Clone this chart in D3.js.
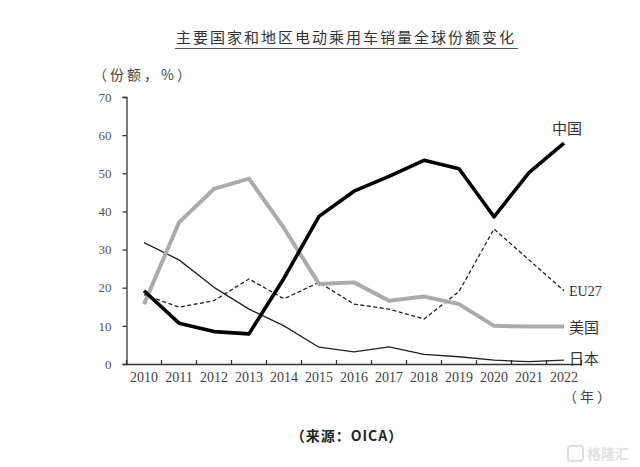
<!DOCTYPE html>
<html>
<head>
<meta charset="utf-8">
<script src="https://cdn.jsdelivr.net/npm/d3@7/dist/d3.min.js"></script>
<style>
  html, body { margin: 0; padding: 0; background: #fff; }
  svg { display: block; }
</style>
</head>
<body>
<svg id="chart" width="640" height="467"></svg>
<script>
const years = ["2010","2011","2012","2013","2014","2015","2016","2017","2018","2019","2020","2021","2022"];
const yTicks = [0, 10, 20, 30, 40, 50, 60, 70];
const china = [19.2, 10.7, 8.5, 7.9, 22.5, 38.7, 45.3, 49.2, 53.4, 51.2, 38.6, 50.2, 57.9];
const usa   = [15.7, 37.1, 45.9, 48.6, 35.6, 21.0, 21.4, 16.6, 17.7, 15.7, 10.0, 9.8, 9.8];
const eu27  = [18.2, 14.9, 16.6, 22.3, 17.1, 21.4, 15.7, 14.4, 11.8, 19.0, 35.4, 27.3, 19.2];
const japan = [31.8, 27.3, 20.1, 14.4, 10.0, 4.4, 3.2, 4.5, 2.5, 1.9, 1.0, 0.6, 1.0];
const seriesNames = ["中国", "美国", "EU27", "日本"];

const serif = "'Liberation Serif','DejaVu Serif',serif";
const cjk = "'Noto Sans CJK SC','Noto Sans CJK JP',sans-serif";

const svg = d3.select("#chart");
const plotLeft = 126.5, plotRight = 581.5, plotTop = 97, plotBottom = 364;

const x = d3.scaleBand().domain(years).range([plotLeft, plotRight]);
const y = d3.scaleLinear().domain([0, 70]).range([plotBottom, plotTop]);

// Title
svg.append("text")
  .attr("x", 346).attr("y", 43)
  .attr("text-anchor", "middle")
  .attr("font-family", cjk)
  .attr("font-size", 15)
  .attr("letter-spacing", 2)
  .attr("fill", "#333")
  .text("主要国家和地区电动乘用车销量全球份额变化");
svg.append("line")
  .attr("x1", 175).attr("x2", 518)
  .attr("y1", 48.5).attr("y2", 48.5)
  .attr("stroke", "#555").attr("stroke-width", 1);

// Y axis label
svg.append("text")
  .attr("x", 93).attr("y", 80)
  .attr("font-family", cjk)
  .attr("font-size", 14)
  .attr("letter-spacing", 3)
  .attr("fill", "#444")
  .text("（份额，%）");

// Y axis
const yAxis = d3.axisLeft(y).tickValues(yTicks).tickSize(4).tickPadding(11);
const gy = svg.append("g").attr("transform", `translate(${plotLeft},0)`).call(yAxis);
gy.select(".domain").attr("stroke", "#333").attr("stroke-width", 1.3);
gy.selectAll(".tick line").attr("stroke", "#333").attr("stroke-width", 1.3);
gy.selectAll(".tick text").attr("font-family", serif).attr("font-size", 13).attr("fill", "#555");

// X axis
const xAxis = d3.axisBottom(x).tickSize(0).tickPadding(8);
const gx = svg.append("g").attr("transform", `translate(0,${plotBottom})`).call(xAxis);
gx.select(".domain").attr("stroke", "#333").attr("stroke-width", 1.5);
gx.selectAll(".tick text").attr("font-family", serif).attr("font-size", 14).attr("fill", "#444");
// category boundary ticks pointing up
const bounds = years.map(d => x(d)).concat([x(years[years.length - 1]) + x.bandwidth()]);
svg.append("g").selectAll("line").data(bounds).join("line")
  .attr("x1", d => d).attr("x2", d => d)
  .attr("y1", plotBottom).attr("y2", plotBottom - 4)
  .attr("stroke", "#333").attr("stroke-width", 1.3);

// (年)
svg.append("text")
  .attr("x", 563).attr("y", 402)
  .attr("font-family", cjk)
  .attr("font-size", 14)
  .attr("letter-spacing", 3)
  .attr("fill", "#444")
  .text("（年）");

const cx = d => x(d) + x.bandwidth() / 2;
const line = d3.line().x((d, i) => cx(years[i])).y(d => y(d)).curve(d3.curveLinear);

const g = svg.append("g").attr("stroke-linejoin", "round").attr("stroke-linecap", "butt");
g.append("path").datum(japan).attr("d", line)
  .attr("fill", "none").attr("stroke", "#222").attr("stroke-width", 1.3);
g.append("path").datum(eu27).attr("d", line)
  .attr("fill", "none").attr("stroke", "#222").attr("stroke-width", 1.3)
  .attr("stroke-dasharray", "4,2.5");
g.append("path").datum(usa).attr("d", line)
  .attr("fill", "none").attr("stroke", "#ababab").attr("stroke-width", 4);
g.append("path").datum(china).attr("d", line)
  .attr("fill", "none").attr("stroke", "#000").attr("stroke-width", 3.6);

// Series labels
const labelData = [
  {name: seriesNames[0], x: 552, y: 134},
  {name: seriesNames[2], x: 569, y: 296},
  {name: seriesNames[1], x: 569, y: 333},
  {name: seriesNames[3], x: 569, y: 364}
];
svg.append("g").selectAll("text").data(labelData).join("text")
  .attr("x", d => d.x).attr("y", d => d.y)
  .attr("font-family", d => d.name === "EU27" ? serif : cjk)
  .attr("font-size", d => d.name === "EU27" ? 14 : 15)
  .attr("fill", "#333")
  .text(d => d.name);

// Source
svg.append("text")
  .attr("x", 347).attr("y", 441)
  .attr("text-anchor", "middle")
  .attr("font-family", cjk)
  .attr("font-size", 14)
  .attr("font-weight", "bold")
  .attr("letter-spacing", 1)
  .attr("fill", "#222")
  .text("（来源：OICA）");

// Watermark
svg.append("rect").attr("x", 568).attr("y", 446).attr("width", 15).attr("height", 15)
  .attr("rx", 3).attr("fill", "none").attr("stroke", "#ddd").attr("stroke-width", 2);
svg.append("text")
  .attr("x", 587).attr("y", 459)
  .attr("font-family", cjk)
  .attr("font-size", 14)
  .attr("font-weight", "bold")
  .attr("fill", "#e2e2e2")
  .text("格隆汇");
</script>
</body>
</html>
